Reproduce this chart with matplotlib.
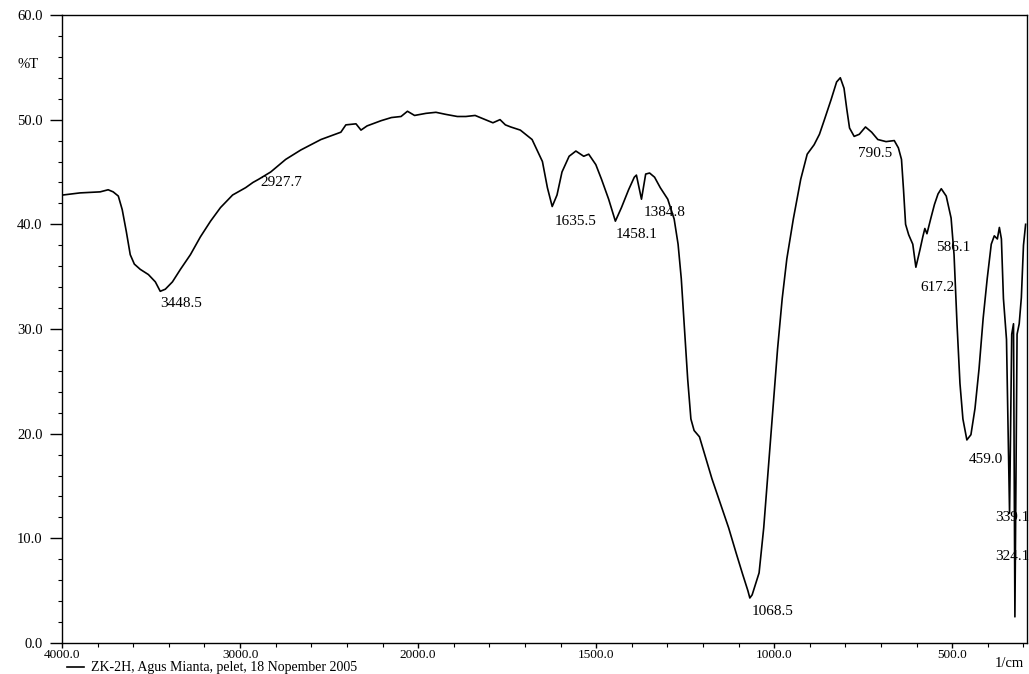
import numpy as np
import matplotlib
matplotlib.use("Agg")
import matplotlib.pyplot as plt

# wavenumber (1/cm) and transmittance (%T)
wavenumber = [3995, 3899, 3786, 3741, 3713, 3684, 3662, 3639, 3617, 3594, 3561, 3515, 3476,
              3448.5, 3420, 3380, 3335, 3279, 3223, 3166, 3110, 3042, 2969, 2927.7, 2896, 2828,
              2744, 2659, 2546, 2434, 2406, 2349, 2321, 2287, 2208, 2150, 2096, 2060, 2020, 1978,
              1950, 1922, 1890, 1866, 1840, 1811, 1790, 1770, 1755, 1740, 1713, 1680, 1651, 1637,
              1623.5, 1610, 1596, 1576, 1557, 1535, 1521, 1501, 1485, 1465, 1446.1, 1429, 1409,
              1393, 1387, 1372.8, 1361, 1350, 1336, 1320, 1299, 1281, 1270, 1261, 1252, 1243,
              1234, 1225, 1210, 1196, 1175, 1151, 1128, 1107, 1089, 1074, 1068.5, 1062, 1042.5,
              1029.5, 1016.5, 1003.5, 990.6, 977.6, 964.6, 946.4, 925.6, 907.4, 888, 873, 859,
              840.4, 824.8, 814.4, 804, 796.2, 788.5, 775.5, 761.1, 743.7, 726.4, 709.1, 686, 662.9,
              651.3, 642.6, 636.9, 631.1, 622.4, 610.9, 602.2, 590.5, 582.8, 577, 571.1, 566, 560,
              550, 540, 530.9, 517, 503.3, 495, 486.7, 478.4, 470.1, 459, 447.6, 436.2, 424.8,
              413.3, 401.9, 390.5, 382, 373.4, 367.7, 362, 356.3, 347.7, 339.1, 333, 328, 324.1,
              318, 312, 306, 300, 294]
transmittance = [42.8, 43.0, 43.1, 43.3, 43.1, 42.7, 41.4, 39.3, 37.1, 36.2, 35.7, 35.2, 34.5,
                 33.6, 33.8, 34.5, 35.7, 37.1, 38.8, 40.3, 41.6, 42.8, 43.5, 44.0, 44.3, 45.0,
                 46.2, 47.1, 48.1, 48.8, 49.5, 49.6, 49.0, 49.4, 49.9, 50.2, 50.3, 50.8, 50.4, 50.6,
                 50.7, 50.5, 50.3, 50.3, 50.4, 50.0, 49.7, 50.0, 49.5, 49.3, 49.0, 48.1, 46.0, 43.5,
                 41.7, 42.8, 45.0, 46.5, 47.0, 46.5, 46.7, 45.7, 44.3, 42.4, 40.3, 41.6, 43.3,
                 44.5, 44.7, 42.4, 44.8, 44.9, 44.5, 43.5, 42.4, 40.5, 38.1, 34.8, 30.0, 25.2,
                 21.4, 20.3, 19.7, 18.1, 15.7, 13.3, 11.0, 8.6, 6.6, 5.0, 4.3, 4.6, 6.7,
                 11.0, 16.7, 22.4, 28.1, 32.9, 36.7, 40.5, 44.3, 46.7, 47.6, 48.6, 50.0,
                 51.9, 53.6, 54.0, 53.0, 51.0, 49.2, 48.4, 48.6, 49.3, 48.8, 48.1, 47.9, 48.0,
                 47.3, 46.2, 43.3, 40.0, 39.0, 38.1, 35.9, 37.6, 38.8, 39.6, 39.1, 39.8, 40.6,
                 41.9, 42.9, 43.4, 42.7, 40.6, 37.1, 30.5, 24.8, 21.4, 19.4, 19.9, 22.4, 26.2,
                 31.0, 34.8, 38.1, 38.9, 38.6, 39.7, 38.6, 32.9, 29.0, 12.4, 29.5, 30.5, 2.5,
                 29.5, 30.5, 33.0, 38.0, 40.0]

# peak annotations: text, x (1/cm), y (%T) of the label
peak_labels = ["3448.5", "2927.7", "1635.5", "1458.1", "1384.8", "1068.5",
               "790.5", "586.1", "617.2", "459.0", "339.1", "324.1"]
peak_label_x = [3448, 2884, 1616, 1444, 1367, 1063, 765, 545, 590, 453, 380, 380]
peak_label_y = [32.4, 44.0, 40.3, 39.0, 41.1, 3.0, 46.8, 37.8, 34.0, 17.5, 12.0, 8.3]

x_major = [4000, 3000, 2000, 1500, 1000, 500]
y_major = [0, 10, 20, 30, 40, 50, 60]


# the instrument plots below 2000 1/cm at twice the scale
def fwd(x):
    x = np.asarray(x, dtype=float)
    return np.where(x >= 2000, x, 2 * x - 2000)


def inv(u):
    u = np.asarray(u, dtype=float)
    return np.where(u >= 2000, u, (u + 2000) / 2)


plt.rcParams['font.family'] = ['Liberation Serif', 'DejaVu Serif']

fig = plt.figure(figsize=(10.29, 6.74), dpi=100)
ax = fig.add_axes([0.0603, 0.046, 0.9378, 0.9318])
ax.set_xscale('function', functions=(fwd, inv))

ax.plot(wavenumber, transmittance, color='black', linewidth=1.2,
        label='ZK-2H, Agus Mianta, pelet, 18 Nopember 2005')

for txt, px, py in zip(peak_labels, peak_label_x, peak_label_y):
    ax.text(px, py, txt, fontsize=11, ha='left', va='center', clip_on=False)

ax.set_xlim(4000, 290)
ax.set_ylim(0, 60)

ax.set_xticks(x_major)
ax.set_xticklabels([f"{v:.1f}" for v in x_major])
ax.set_xticks(list(range(3800, 2000, -200)) + list(range(1900, 299, -100)), minor=True)
ax.set_yticks(y_major)
ax.set_yticklabels([f"{v:.1f}" for v in y_major])
ax.set_yticks(np.arange(0, 60, 2), minor=True)

ax.tick_params(axis='y', which='major', direction='out', length=9, width=1.0,
               labelsize=10.5, pad=5)
ax.tick_params(axis='x', which='major', direction='out', length=3.5, width=1.0,
               labelsize=9.5, pad=0.5)
ax.tick_params(axis='both', which='minor', direction='out', length=3, width=0.8)
for s in ax.spines.values():
    s.set_linewidth(1.0)

ax.text(-0.035, 55.3, "%T", transform=ax.get_yaxis_transform(), fontsize=10.5,
        ha='center', va='center')
fig.text(1024 / 1029, 0.006, "1/cm", fontsize=10.5, ha='right', va='bottom')

fig.legend(loc='lower left', bbox_to_anchor=(0.058, -0.012), frameon=False,
           fontsize=10, handlelength=1.2, handletextpad=0.5, borderpad=0.05)

fig.savefig('out.png', dpi=100)
